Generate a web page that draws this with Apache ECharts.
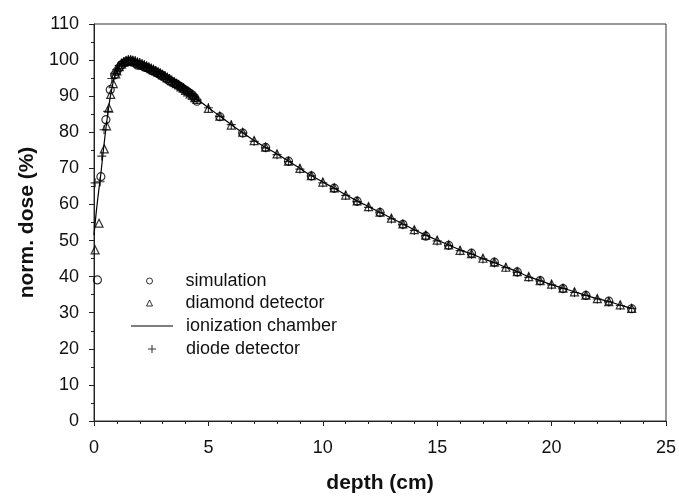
<!DOCTYPE html>
<html>
<head>
<meta charset="utf-8">
<script src="https://cdn.jsdelivr.net/npm/echarts@6/dist/echarts.min.js"></script>
<style>
html,body{margin:0;padding:0;background:#fff;}
#chart{width:679px;height:499px;}
</style>
</head>
<body>
<div id="chart"></div>
<script>
// ---- data ----
var xTicks = [0, 5, 10, 15, 20, 25];
var yTicks = [0, 10, 20, 30, 40, 50, 60, 70, 80, 90, 100, 110];
var seriesNames = ['simulation', 'diamond detector', 'ionization chamber', 'diode detector'];

var simDepth = [0.15, 0.3, 0.52, 0.71, 0.9,
  1.0,1.1,1.2,1.3,1.4,1.5,1.6,1.7,1.8,1.9,2.0,2.1,2.2,2.3,2.4,2.5,2.6,2.7,2.8,2.9,
  3.0,3.1,3.2,3.3,3.4,3.5,3.6,3.7,3.8,3.9,4.0,4.1,4.2,4.3,4.4,
  4.5,5.5,6.5,7.5,8.5,9.5,10.5,11.5,12.5,13.5,14.5,15.5,16.5,17.5,18.5,19.5,20.5,21.5,22.5,23.5];
var simDose = [39.1, 67.7, 83.5, 91.8, 95.9,
  96.9,97.9,98.7,99.2,99.5,99.6,99.6,99.4,99.1,98.6,98.6,98.4,98.1,97.9,97.6,97.2,97.0,96.7,96.4,95.9,
  95.6,95.1,94.8,94.2,94.0,93.6,93.4,92.9,92.6,92.0,91.7,91.2,90.8,90.3,89.6,
  88.6,84.3,79.8,75.8,72.0,67.9,64.5,60.9,57.8,54.5,51.2,48.7,46.5,44.0,41.3,38.9,36.7,34.8,33.2,31.1];

var diaDepth = [0.05, 0.22, 0.45, 0.55, 0.65, 0.73, 0.84, 0.95,
  1.0,1.1,1.2,1.3,1.4,1.5,1.6,1.7,1.8,1.9,2.0,2.1,2.2,2.3,2.4,2.5,2.6,2.7,2.8,2.9,
  3.0,3.1,3.2,3.3,3.4,3.5,3.6,3.7,3.8,3.9,4.0,4.1,4.2,4.3,4.4,
  4.5,5.0,5.5,6.0,6.5,7.0,7.5,8.0,8.5,9.0,9.5,10.0,10.5,11.0,11.5,12.0,12.5,13.0,13.5,14.0,
  14.5,15.0,15.5,16.0,16.5,17.0,17.5,18.0,18.5,19.0,19.5,20.0,20.5,21.0,21.5,22.0,22.5,23.0,23.5];
var diaDose = [47.4, 54.8, 75.4, 81.8, 86.7, 90.5, 93.5, 96.2,
  97.0,98.2,98.9,99.4,99.8,100.0,100.1,99.9,99.7,99.4,99.1,98.9,98.6,98.2,98.0,97.6,97.3,97.0,96.6,96.3,
  95.9,95.6,95.1,94.8,94.3,93.9,93.5,93.1,92.6,92.2,91.6,91.2,90.6,90.2,89.6,
  89.1,86.6,84.5,82.0,80.0,77.7,75.9,74.0,72.0,70.0,68.0,66.2,64.6,62.6,61.0,59.4,57.9,56.2,54.6,53.0,
  51.5,50.1,48.8,47.3,46.4,45.1,44.0,42.6,41.4,40.0,38.9,37.9,36.8,35.8,34.9,33.9,33.1,32.2,31.2];

var diodeDepth = [0.05, 0.27, 0.34, 0.44, 0.6, 0.78, 0.92,
  1.0,1.1,1.2,1.3,1.4,1.5,1.6,1.7,1.8,1.9,2.0,2.1,2.2,2.3,2.4,2.5,2.6,2.7,2.8,2.9,
  3.0,3.1,3.2,3.3,3.4,3.5,3.6,3.7,3.8,3.9,4.0,4.1,4.2,4.3,4.4,
  4.5,5.0,5.5,6.0,6.5,7.0,7.5,8.0,8.5,9.0,9.5,10.0,10.5,11.0,11.5,12.0,12.5,13.0,13.5,14.0,
  14.5,15.0,15.5,16.0,16.5,17.0,17.5,18.0,18.5,19.0,19.5,20.0,20.5,21.0,21.5,22.0,22.5,23.0,23.5];
var diodeDose = [66.0, 66.3, 73.4, 80.7, 85.8, 94.9, 96.3,
  97.4,98.5,99.2,99.6,99.9,100.1,100.0,99.9,99.8,99.5,99.3,99.0,98.7,98.4,98.1,97.8,97.5,97.1,96.8,96.4,
  96.1,95.7,95.3,94.9,94.5,94.1,93.6,93.2,92.7,92.3,91.8,91.3,90.8,90.3,89.8,
  89.0,86.8,84.4,82.1,79.8,77.5,75.7,73.8,71.9,69.8,67.9,66.0,64.4,62.5,60.8,59.2,57.7,56.0,54.4,52.8,
  51.4,49.9,48.6,47.2,46.2,44.9,43.8,42.5,41.2,39.8,38.8,37.7,36.7,35.6,34.8,33.8,33.0,32.0,31.2];

var ionDepth = [0,0.1,0.2,0.3,0.4,0.5,0.6,0.7,0.8,0.9,1.0,1.1,1.2,1.3,1.4,1.5,1.6,1.7,1.8,1.9,2.0,
  2.5,3.0,3.5,4.0,4.5,5.0,5.5,6.0,6.5,7.0,7.5,8.0,8.5,9.0,9.5,10.0,10.5,11.0,11.5,12.0,12.5,13.0,13.5,14.0,
  14.5,15.0,15.5,16.0,16.5,17.0,17.5,18.0,18.5,19.0,19.5,20.0,20.5,21.0,21.5,22.0,22.5,23.0,23.5];
var ionDose = [51.5,58.0,63.5,68.5,74.5,80.0,85.0,89.3,92.8,95.4,97.2,98.3,99.0,99.5,99.8,100.0,100.0,99.9,99.7,99.5,99.2,
  97.7,96.0,94.0,91.7,89.2,86.8,84.5,82.1,79.9,77.7,75.8,74.0,72.0,70.0,68.0,66.2,64.5,62.7,61.0,59.4,57.8,56.2,54.6,53.0,
  51.5,50.1,48.8,47.4,46.3,45.0,43.9,42.6,41.4,40.0,38.9,37.8,36.8,35.8,34.8,33.9,33.1,32.1,31.2];

function zip(a, b) { return a.map(function (v, i) { return [v, b[i]]; }); }

var plusPath = 'path://M0,4.35H10V5.65H0Z M4.35,0H5.65V10H4.35Z';
var linePath = 'path://M0,0H42V1.2H0Z';
var FONT = 'Liberation Sans, Arial, sans-serif';
var legendText = {fontFamily: FONT, fontSize: 18, color: '#111'};

function mkLegend(name, icon, left, top, w, h, textPad) {
  return {
    orient: 'vertical', left: left, top: top, itemWidth: w, itemHeight: h, itemGap: 0,
    symbolKeepAspect: true, selectedMode: false,
    itemStyle: {borderWidth: 1},
    textStyle: Object.assign({padding: [0, 0, 0, textPad]}, legendText),
    data: [{name: name, icon: icon}]
  };
}

var chart = echarts.init(document.getElementById('chart'), null, {renderer: 'canvas'});
chart.setOption({
  backgroundColor: '#fff',
  animation: false,
  grid: {left: 94, right: 11, top: 24, bottom: 75, show: true, borderColor: '#333', borderWidth: 1, backgroundColor: 'transparent'},
  legend: [
    mkLegend(seriesNames[0], 'circle', 141, 267, 6, 6, 28),
    mkLegend(seriesNames[1], 'triangle', 141, 289, 6, 6, 28),
    mkLegend(seriesNames[2], linePath, 126, 312, 42, 1.2, 8),
    mkLegend(seriesNames[3], plusPath, 143, 335, 8, 8, 25)
  ],
  xAxis: {
    type: 'value', min: xTicks[0], max: xTicks[xTicks.length - 1], interval: 5,
    name: 'depth (cm)', nameLocation: 'middle', nameGap: 52,
    nameTextStyle: {fontFamily: FONT, fontSize: 21, fontWeight: 'bold', color: '#111'},
    axisLine: {show: true, onZero: false, lineStyle: {color: '#222', width: 1}},
    axisTick: {show: true, inside: false, length: 5, lineStyle: {color: '#222'}},
    minorTick: {show: true, splitNumber: 5, length: 3, lineStyle: {color: '#222'}},
    axisLabel: {margin: 18, fontFamily: FONT, fontSize: 18, color: '#111'},
    splitLine: {show: false}
  },
  yAxis: {
    type: 'value', min: yTicks[0], max: yTicks[yTicks.length - 1], interval: 10,
    name: 'norm. dose (%)', nameLocation: 'middle', nameGap: 50,
    nameTextStyle: {fontFamily: FONT, fontSize: 21, fontWeight: 'bold', color: '#111'},
    axisLine: {show: true, onZero: false, lineStyle: {color: '#222', width: 1}},
    axisTick: {show: true, inside: false, length: 5, lineStyle: {color: '#222'}},
    minorTick: {show: true, splitNumber: 2, length: 3, lineStyle: {color: '#222'}},
    axisLabel: {margin: 15, fontFamily: FONT, fontSize: 18, color: '#111'},
    splitLine: {show: false}
  },
  series: [
    {
      name: seriesNames[2], type: 'line', data: zip(ionDepth, ionDose),
      symbol: 'none', smooth: 0.3, lineStyle: {color: '#000', width: 1.2}, itemStyle: {color: '#000'}, z: 2
    },
    {
      name: seriesNames[0], type: 'scatter', data: zip(simDepth, simDose),
      symbol: 'circle', symbolSize: 8,
      itemStyle: {color: 'rgba(255,255,255,0)', borderColor: '#000', borderWidth: 1.2}, z: 3
    },
    {
      name: seriesNames[1], type: 'scatter', data: zip(diaDepth, diaDose),
      symbol: 'triangle', symbolSize: 8,
      itemStyle: {color: 'rgba(255,255,255,0)', borderColor: '#000', borderWidth: 1.2}, z: 3
    },
    {
      name: seriesNames[3], type: 'scatter', data: zip(diodeDepth, diodeDose),
      symbol: plusPath, symbolSize: 9,
      itemStyle: {color: '#000'}, z: 4
    }
  ]
});
</script>
</body>
</html>
